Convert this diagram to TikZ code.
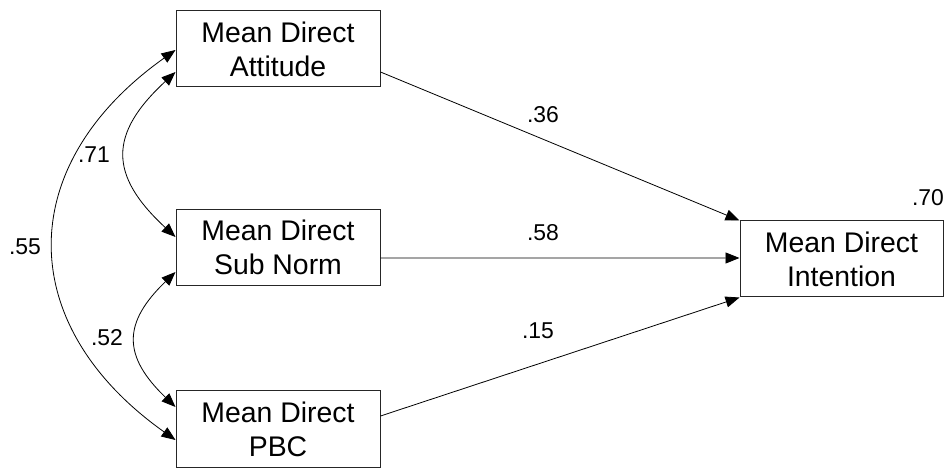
\documentclass[tikz,border=0pt]{standalone}
\usepackage{fontspec}
\setmainfont{Liberation Sans}
\usetikzlibrary{arrows.meta,calc}
\begin{document}
\begin{tikzpicture}[x=1bp,y=-1bp,
  var/.style={draw=black!85,line width=1bp,rectangle,minimum width=204bp,
    minimum height=76bp,inner sep=0pt,align=center,
    font=\fontsize{28.5}{34}\selectfont},
  coef/.style={inner sep=0pt,font=\fontsize{23}{26}\selectfont},
  path/.style={line width=0.8bp,-{Triangle[length=14bp,width=11bp]}},
  cov/.style={line width=0.8bp,{Triangle[length=14bp,width=11bp]}-{Triangle[length=14bp,width=11bp]}}]
  \path[use as bounding box] (0,0) rectangle (948,468);

  % observed variables
  \node[var] (att) at (278,49)    {Mean Direct\\Attitude};
  \node[var] (sub) at (278,247.5) {Mean Direct\\Sub Norm};
  \node[var] (pbc) at (278,429)   {Mean Direct\\PBC};
  \node[var,minimum width=203bp] (int) at (841.5,259) {Mean Direct\\Intention};

  % regression paths
  \draw[path] ($(att.east)+(0,23)$) -- (int.north west);
  \draw[path] ($(sub.east)+(0,10.5)$) -- ($(int.west)+(0,-1)$);
  \draw[path] ($(pbc.east)+(0,-13)$) -- (int.south west);

  % correlations among predictors
  \draw[cov] ($(att.west)+(0,1)$) .. controls +(-162,115) and +(-162,-115) .. ($(pbc.west)+(0,11)$);
  \draw[cov] ($(att.west)+(0,23)$) .. controls +(-67,62) and +(-67,-62) .. ($(sub.west)+(0,-10.5)$);
  \draw[cov] ($(sub.west)+(0,24.5)$) .. controls +(-53,51) and +(-53,-51) .. ($(pbc.west)+(0,-22)$);

  % coefficients
  \node[coef] (c36) at (543,115) {.36};
  \node[coef] (c58) at (543,233) {.58};
  \node[coef] (c15) at (538,331) {.15};
  \node[coef] (c70) at (928,198) {.70};
  \node[coef] (c71) at (94,155)  {.71};
  \node[coef] (c55) at (25,247)  {.55};
  \node[coef] (c52) at (107,338) {.52};
\end{tikzpicture}
\end{document}
